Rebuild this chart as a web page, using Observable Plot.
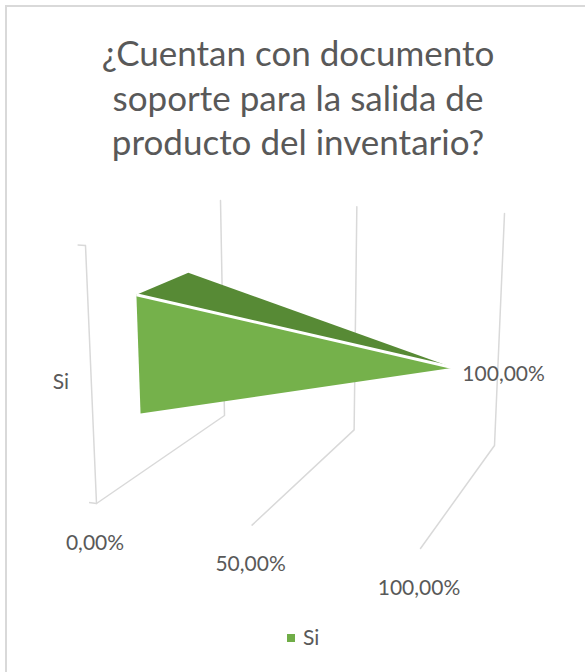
<!DOCTYPE html>
<html>
<head>
<meta charset="utf-8">
<script src="https://cdn.jsdelivr.net/npm/d3@7"></script>
<script src="https://cdn.jsdelivr.net/npm/@observablehq/plot@0.6"></script>
<style>
  html, body { margin: 0; padding: 0; background: #fff; overflow: hidden; }
  #wrap { position: relative; width: 585px; height: 672px; overflow: hidden; font-family: Lato, "Open Sans", sans-serif; color: #595959; }
  #frame { position: absolute; left: 5px; top: 5px; width: 800px; height: 900px; border-left: 2px solid #d9d9d9; border-top: 2px solid #d9d9d9; }
  #title { position: absolute; left: 0; top: 30px; width: 596px; text-align: center; font-size: 35px; line-height: 44.7px; }
  #chart { position: absolute; left: 0; top: 180px; }
</style>
</head>
<body>
<div id="wrap">
  <div id="frame"></div>
  <div id="title"></div>
  <div id="chart"></div>
  <div id="legendbox"></div>
</div>
<script>
// ---- data ----
const titleLines = ["¿Cuentan con documento", "soporte para la salida de", "producto del inventario?"];
const categories = ["Si"];
const values = [1.0];
const valueLabels = ["100,00%"];
const tickValues = [0, 0.5, 1];
const tickLabels = ["0,00%", "50,00%", "100,00%"];
const seriesName = "Si";

// ---- title ----
document.getElementById("title").innerHTML = titleLines.join("<br>");

// ---- legend ----
const lb = document.getElementById("legendbox");
lb.innerHTML = `<div style="position:absolute;left:287px;top:634px;width:8px;height:8px;background:#70AD47"></div>` +
  `<div style="position:absolute;left:303px;top:627px;font-size:21px;line-height:20px">${seriesName}</div>`;

// ---- 3D projection (layout of the box in page coordinates) ----
const box = {
  FF0: [96, 503], FT0: [85, 245], BF0: [224, 415], BT0: [220, 200],
  FF1: [420, 548], FT1: [428, 267], BF1: [494, 445], BT1: [504, 213]
};
const persp = 1.083;
const lerp = (a, b, t) => [a[0] + (b[0] - a[0]) * t, a[1] + (b[1] - a[1]) * t];
function P(v, d, h) {
  const t = v / (v + persp * (1 - v));
  const FF = lerp(box.FF0, box.FF1, t), FT = lerp(box.FT0, box.FT1, t);
  const BF = lerp(box.BF0, box.BF1, t), BT = lerp(box.BT0, box.BT1, t);
  const front = lerp(FF, FT, h), back = lerp(BF, BT, h);
  const p = lerp(front, back, d);
  return {x: p[0], y: p[1]};
}

// pyramid geometry (depth/height fractions inside the box)
const base = {d0: 0.36, d1: 0.75, h0: 0.24, h1: 0.73};
const apexDH = {d: 0.38, h: 0.54};
const vmax = tickValues[tickValues.length - 1];

// gridlines: floor then back wall
const grid = tickValues.flatMap((v, i) => [P(v / vmax, 0, 0), P(v / vmax, 1, 0), P(v / vmax, 1, 1)].map(p => ({...p, k: i})));
// category axis line
const catAxis = [P(0, 0, 1), P(0, 0, 0)];
const catTicks = [0, 1].map(h => ({a: P(-0.025, 0, h), b: P(0, 0, h)}));

const faces = [];
const edges = [];
const labels = [];
values.forEach((val, i) => {
  const v = val / vmax;
  const apex = P(v, apexDH.d, apexDH.h);
  const ft = P(0, base.d0, base.h1), fb = P(0, base.d0, base.h0), bt = P(0, base.d1, base.h1);
  faces.push(...[ft, bt, apex].map(p => ({...p, face: "top", cat: categories[i]})));
  faces.push(...[ft, fb, apex].map(p => ({...p, face: "front", cat: categories[i]})));
  edges.push({a: ft, b: apex});
  labels.push({...apex, text: valueLabels[i]});
});
const catLabels = categories.map((c) => ({...P(0, 0, (base.h0 + base.h1) / 2), text: c}));
const tickLab = tickValues.map((v, i) => ({...P(v / vmax, 0, 0), text: tickLabels[i]}));

const font = "Lato, 'Open Sans', sans-serif";
const plot = Plot.plot({
  width: 585, height: 430,
  margin: 0,
  x: {domain: [0, 585], range: [0, 585], axis: null},
  y: {domain: [180, 610], range: [0, 430], axis: null},
  style: {fontFamily: font, color: "#595959", background: "transparent", overflow: "visible"},
  marks: [
    Plot.line(grid, {x: "x", y: "y", z: "k", stroke: "#d9d9d9", strokeWidth: 1.5}),
    Plot.line(catAxis, {x: "x", y: "y", stroke: "#d9d9d9", strokeWidth: 1.5}),
    Plot.link(catTicks, {x1: d => d.a.x, y1: d => d.a.y, x2: d => d.b.x, y2: d => d.b.y, stroke: "#d9d9d9", strokeWidth: 1.5}),
    Plot.line(faces.filter(d => d.face === "top"), {x: "x", y: "y", z: "cat", fill: "#578A35", stroke: "none", curve: "linear-closed"}),
    Plot.line(faces.filter(d => d.face === "front"), {x: "x", y: "y", z: "cat", fill: "#75B14B", stroke: "none", curve: "linear-closed"}),
    Plot.link(edges, {x1: d => d.a.x, y1: d => d.a.y, x2: d => d.b.x, y2: d => d.b.y, stroke: "#fff", strokeWidth: 3}),
    Plot.text(tickLab, {x: "x", y: "y", text: "text", dx: -1.5, dy: 39.5, fontSize: 21, fill: "#595959", textAnchor: "middle"}),
    Plot.text(catLabels, {x: "x", y: "y", text: "text", dx: -22, dy: 4, fontSize: 21, fill: "#595959", textAnchor: "end"}),
    Plot.text(labels, {x: "x", y: "y", text: "text", dx: 9, dy: 6.5, fontSize: 21, fill: "#595959", textAnchor: "start"})
  ]
});
document.getElementById("chart").appendChild(plot);
</script>
</body>
</html>
